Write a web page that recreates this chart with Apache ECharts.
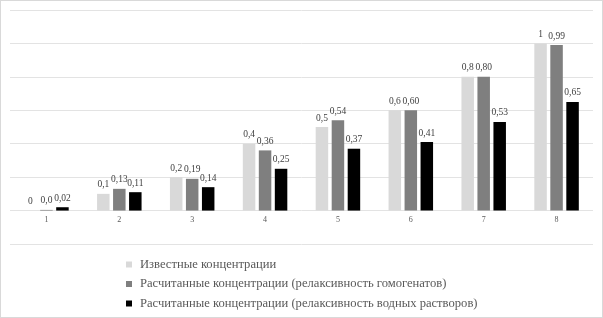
<!DOCTYPE html>
<html>
<head>
<meta charset="utf-8">
<script src="https://cdn.jsdelivr.net/npm/echarts@6/dist/echarts.min.js"></script>
<style>
html, body { margin: 0; padding: 0; background: #fff; }
#echartbox { width: 601px; height: 316px; border: 1px solid #d9d9d9; }
</style>
</head>
<body>
<div id="echartbox"></div>
<script>
// данные
var categories = ['1', '2', '3', '4', '5', '6', '7', '8'];
var seriesNames = [
    'Известные концентрации',
    'Расчитанные концентрации (релаксивность гомогенатов)',
    'Расчитанные концентрации (релаксивность водных растворов)'
];
var known = [0, 0.1, 0.2, 0.4, 0.5, 0.6, 0.8, 1];
var homog = [0.004, 0.13, 0.19, 0.36, 0.54, 0.60, 0.80, 0.99];
var water = [0.02, 0.11, 0.14, 0.25, 0.37, 0.41, 0.53, 0.65];
var knownLabels = ['0', '0,1', '0,2', '0,4', '0,5', '0,6', '0,8', '1'];
var homogLabels = ['0,0', '0,13', '0,19', '0,36', '0,54', '0,60', '0,80', '0,99'];
var waterLabels = ['0,02', '0,11', '0,14', '0,25', '0,37', '0,41', '0,53', '0,65'];

var serif = '"Liberation Serif", "DejaVu Serif", serif';

var myChart = echarts.init(document.getElementById('echartbox'));

function makeSeries(name, data, labels, color) {
    return {
        name: name,
        type: 'bar',
        data: data,
        barWidth: 12.5,
        barGap: '28%',
        itemStyle: { color: color },
        label: {
            show: true,
            position: 'top',
            distance: 4,
            color: '#404040',
            fontSize: 9.5,
            fontFamily: serif,
            formatter: function(p) { return labels[p.dataIndex]; }
        }
    };
}

var option = {
    animation: false,
    textStyle: { fontFamily: serif },
    legend: {
        orient: 'vertical',
        left: 125,
        top: 257,
        padding: 0,
        itemWidth: 6,
        itemHeight: 6,
        itemGap: 6.5,
        icon: 'rect',
        textStyle: { color: '#595959', fontSize: 12.6, fontFamily: serif, padding: [0, 0, 0, 3] },
        data: seriesNames
    },
    grid: {
        left: 9,
        right: 9,
        top: 9,
        bottom: 73,
        containLabel: false
    },
    xAxis: {
        type: 'category',
        data: categories,
        axisTick: { show: false },
        axisLine: { show: false, onZero: false },
        axisLabel: { color: '#595959', fontSize: 8, margin: -28, fontFamily: serif }
    },
    yAxis: {
        type: 'value',
        min: -0.2,
        max: 1.2,
        interval: 0.2,
        axisLabel: { show: false },
        axisLine: { show: false },
        axisTick: { show: false },
        splitLine: { lineStyle: { color: '#e3e3e3' } }
    },
    series: [
        makeSeries(seriesNames[0], known, knownLabels, '#d9d9d9'),
        makeSeries(seriesNames[1], homog, homogLabels, '#7f7f7f'),
        makeSeries(seriesNames[2], water, waterLabels, '#000000')
    ]
};

myChart.setOption(option);
</script>
</body>
</html>
